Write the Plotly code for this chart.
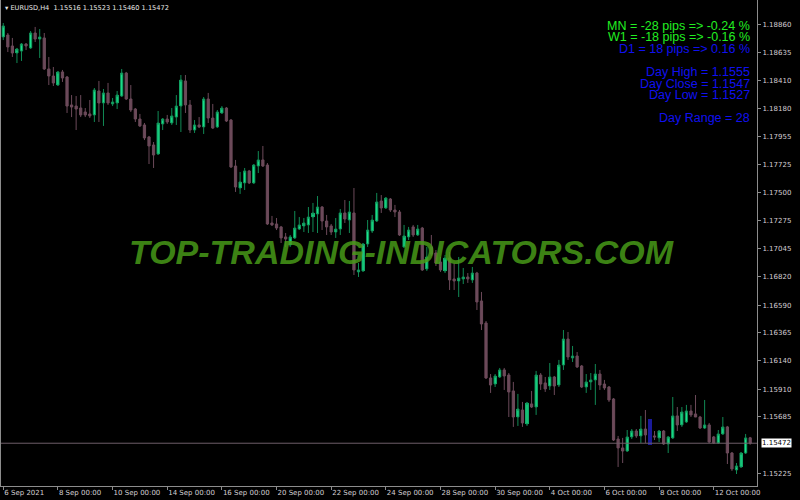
import plotly.graph_objects as go

# ---- data (EURUSD H4, 6 Sep 2021 00:00 .. 13 Oct 2021 08:00) ----
opens = [1.18759,1.18775,1.18686,1.18629,1.18645,1.18702,1.18670,1.18791,1.18742,1.18751,
         1.18500,1.18443,1.18370,1.18476,1.18435,1.18209,1.18200,1.18184,1.18152,1.18136,
         1.18128,1.18322,1.18225,1.18306,1.18217,1.18225,1.18281,1.18467,1.18257,1.18176,
         1.18095,1.18047,1.17950,1.17885,1.17812,1.18055,1.18095,1.18063,1.18111,1.18200,
         1.18403,1.18209,1.18006,1.18047,1.18031,1.18257,1.18103,1.18031,1.18144,1.18184,
         1.18087,1.17715,1.17537,1.17578,1.17675,1.17578,1.17715,1.17764,1.17723,1.17254,
         1.17246,1.17222,1.17141,1.17076,1.17133,1.17205,1.17230,1.17238,1.17302,1.17327,
         1.17383,1.17270,1.17230,1.17181,1.17205,1.17335,1.17278,1.17335,1.16858,1.16866,
         1.17084,1.17189,1.17270,1.17432,1.17375,1.17448,1.17359,1.17343,1.17060,1.17141,
         1.17222,1.17157,1.17213,1.16882,1.17060,1.17011,1.16938,1.16866,1.16971,1.16801,
         1.16785,1.16801,1.16817,1.16793,1.16849,1.16623,1.16445,1.16000,1.15951,1.16008,
         1.16065,1.16024,1.15895,1.15684,1.15741,1.15628,1.15790,1.15765,1.16024,1.15960,
         1.15935,1.16008,1.15943,1.16105,1.16315,1.16162,1.16178,1.16097,1.15927,1.15968,
         1.15984,1.16032,1.15951,1.15927,1.15830,1.15506,1.15434,1.15409,1.15523,1.15571,
         1.15531,1.15587,1.15660,1.15531,1.15515,1.15571,1.15466,1.15515,1.15693,1.15620,
         1.15644,1.15733,1.15709,1.15684,1.15595,1.15620,1.15523,1.15474,1.15547,1.15604,
         1.15393,1.15256,1.15280,1.15393,1.15516]
highs = [1.18872,1.18791,1.18751,1.18670,1.18710,1.18710,1.18807,1.18840,1.18823,1.18791,
         1.18597,1.18516,1.18484,1.18492,1.18443,1.18289,1.18281,1.18289,1.18184,1.18249,
         1.18346,1.18403,1.18338,1.18387,1.18265,1.18322,1.18500,1.18476,1.18370,1.18184,
         1.18136,1.18063,1.17958,1.17909,1.18160,1.18103,1.18128,1.18184,1.18289,1.18451,
         1.18451,1.18249,1.18087,1.18111,1.18273,1.18306,1.18217,1.18168,1.18200,1.18192,
         1.18095,1.17764,1.17667,1.17699,1.17683,1.17731,1.17836,1.17877,1.17739,1.17311,
         1.17294,1.17230,1.17173,1.17157,1.17351,1.17302,1.17294,1.17383,1.17416,1.17472,
         1.17391,1.17319,1.17246,1.17294,1.17367,1.17440,1.17432,1.17537,1.16930,1.17092,
         1.17278,1.17319,1.17497,1.17480,1.17464,1.17456,1.17400,1.17359,1.17238,1.17222,
         1.17238,1.17238,1.17222,1.17060,1.17157,1.17035,1.16979,1.16995,1.17019,1.16930,
         1.16979,1.16890,1.16849,1.16898,1.16858,1.16696,1.16461,1.16032,1.16032,1.16081,
         1.16081,1.16040,1.15968,1.15871,1.15806,1.15806,1.15895,1.16057,1.16040,1.16008,
         1.16121,1.16016,1.16146,1.16388,1.16372,1.16259,1.16210,1.16105,1.16032,1.16040,
         1.16113,1.16065,1.15984,1.15935,1.15838,1.15531,1.15515,1.15579,1.15587,1.15587,
         1.15693,1.15741,1.15668,1.15571,1.15579,1.15579,1.15531,1.15846,1.15765,1.15765,
         1.15782,1.15782,1.15862,1.15693,1.15822,1.15636,1.15531,1.15579,1.15684,1.15612,
         1.15401,1.15312,1.15401,1.15547,1.15523]
lows = [1.18734,1.18637,1.18597,1.18548,1.18565,1.18653,1.18662,1.18718,1.18589,1.18492,
        1.18370,1.18362,1.18362,1.18395,1.18144,1.18111,1.18006,1.18111,1.18111,1.18103,
        1.18071,1.18071,1.18039,1.18209,1.18200,1.18176,1.18273,1.18249,1.18152,1.18071,
        1.18031,1.17925,1.17731,1.17699,1.17804,1.18006,1.18055,1.18047,1.18047,1.17990,
        1.18144,1.17982,1.17982,1.18022,1.17974,1.18063,1.18014,1.18022,1.18136,1.18071,
        1.17699,1.17505,1.17489,1.17521,1.17569,1.17569,1.17658,1.17707,1.17238,1.17230,
        1.17197,1.17092,1.17060,1.17060,1.17124,1.17197,1.17181,1.17173,1.17181,1.17173,
        1.17197,1.17157,1.17157,1.17133,1.17157,1.17254,1.17173,1.16833,1.16817,1.16858,
        1.17060,1.17173,1.17262,1.17335,1.17367,1.17343,1.17302,1.17149,1.17052,1.17116,
        1.17141,1.17149,1.16866,1.16866,1.16987,1.16906,1.16858,1.16849,1.16712,1.16712,
        1.16655,1.16760,1.16769,1.16769,1.16550,1.16388,1.15992,1.15879,1.15927,1.16000,
        1.15903,1.15684,1.15604,1.15612,1.15604,1.15612,1.15757,1.15701,1.15903,1.15887,
        1.15903,1.15862,1.15927,1.16065,1.16146,1.16129,1.16081,1.15919,1.15879,1.15903,
        1.15782,1.15903,1.15903,1.15806,1.15490,1.15280,1.15312,1.15401,1.15506,1.15515,
        1.15474,1.15474,1.15458,1.15498,1.15482,1.15458,1.15393,1.15506,1.15571,1.15604,
        1.15636,1.15684,1.15684,1.15587,1.15587,1.15474,1.15466,1.15466,1.15539,1.15304,
        1.15248,1.15223,1.15272,1.15385,1.15460]
closes = [1.18848,1.18678,1.18629,1.18662,1.18702,1.18686,1.18791,1.18742,1.18759,1.18500,
          1.18443,1.18387,1.18476,1.18427,1.18200,1.18192,1.18176,1.18128,1.18128,1.18120,
          1.18330,1.18225,1.18306,1.18225,1.18233,1.18289,1.18467,1.18257,1.18168,1.18095,
          1.18039,1.17942,1.17877,1.17804,1.18063,1.18095,1.18071,1.18120,1.18200,1.18411,
          1.18209,1.18006,1.18047,1.18031,1.18257,1.18103,1.18022,1.18152,1.18184,1.18079,
          1.17707,1.17545,1.17586,1.17675,1.17578,1.17723,1.17764,1.17715,1.17246,1.17238,
          1.17213,1.17133,1.17124,1.17141,1.17213,1.17238,1.17254,1.17302,1.17335,1.17383,
          1.17270,1.17222,1.17181,1.17205,1.17335,1.17286,1.17343,1.16874,1.16874,1.17084,
          1.17197,1.17278,1.17424,1.17375,1.17456,1.17359,1.17343,1.17157,1.17149,1.17197,
          1.17157,1.17205,1.16874,1.16979,1.17003,1.16930,1.16874,1.16971,1.16793,1.16785,
          1.16809,1.16817,1.16801,1.16849,1.16615,1.16437,1.16000,1.15943,1.16016,1.16065,
          1.16016,1.15887,1.15684,1.15749,1.15636,1.15798,1.15765,1.16024,1.15951,1.15911,
          1.16008,1.15935,1.16105,1.16315,1.16170,1.16178,1.16089,1.15927,1.15968,1.15984,
          1.16032,1.15943,1.15919,1.15822,1.15498,1.15434,1.15409,1.15523,1.15571,1.15531,
          1.15587,1.15539,1.15458,1.15523,1.15571,1.15466,1.15523,1.15693,1.15620,1.15725,
          1.15733,1.15701,1.15684,1.15595,1.15620,1.15482,1.15474,1.15547,1.15604,1.15393,
          1.15264,1.15288,1.15393,1.15515,1.15472]
marked_bar = [142]  # candle drawn in blue by the indicator

x_tick_idx = [0, 12, 24, 36, 48, 60, 72, 84, 96, 108, 120, 132, 144, 156]
x_tick_text = ["6 Sep 2021", "8 Sep 00:00", "10 Sep 00:00", "14 Sep 00:00", "16 Sep 00:00",
               "20 Sep 00:00", "22 Sep 00:00", "24 Sep 00:00", "28 Sep 00:00", "30 Sep 00:00",
               "4 Oct 00:00", "6 Oct 00:00", "8 Oct 00:00", "12 Oct 00:00"]
y_ticks = [1.18860, 1.18635, 1.18410, 1.18180, 1.17955, 1.17725, 1.17500, 1.17275,
           1.17045, 1.16820, 1.16590, 1.16365, 1.16140, 1.15910, 1.15685, 1.15225]

info_green = ["MN = -28 pips => -0.24 %", "W1 = -18 pips => -0.16 %"]
info_blue = ["D1 = 18 pips => 0.16 %", "", "Day High = 1.1555", "Day Close = 1.1547",
             "Day Low = 1.1527", "", "Day Range = 28"]

# ---- styling ----
BULL = "#19e38c"
BULL_WICK = "#118a55"
BEAR = "#6c4a5a"
AXIS = "#8c8c8c"
TXT = "#d4cfd4"

n = len(opens)
idx = list(range(n))
normal = [i for i in idx if i not in marked_bar]

fig = go.Figure()
fig.add_trace(go.Candlestick(
    x=normal, open=[opens[i] for i in normal], high=[highs[i] for i in normal],
    low=[lows[i] for i in normal], close=[closes[i] for i in normal],
    increasing=dict(line=dict(color=BULL_WICK, width=1), fillcolor=BULL),
    decreasing=dict(line=dict(color=BEAR, width=1), fillcolor=BEAR),
    whiskerwidth=0, hoverinfo="skip", showlegend=False))
# bright bodies of bullish candles
g = [i for i in normal if closes[i] >= opens[i]]
fig.add_trace(go.Bar(
    x=g, y=[closes[i] - opens[i] for i in g], base=[opens[i] for i in g],
    width=0.68, marker=dict(color=BULL, line=dict(width=0)), hoverinfo="skip", showlegend=False))
# blue marked candle
fig.add_trace(go.Bar(
    x=marked_bar, y=[highs[i] - lows[i] for i in marked_bar], base=[lows[i] for i in marked_bar],
    width=0.68, marker=dict(color="#1a1a9a", line=dict(width=0)), hoverinfo="skip", showlegend=False))

last_close = closes[-1]
fig.add_shape(type="line", xref="paper", x0=0, x1=1, yref="y", y0=last_close, y1=last_close,
              line=dict(color="#6e5e68", width=1), layer="above")

ymin, ymax = 1.15126, 1.19058
fig.update_layout(
    width=800, height=500,
    margin=dict(l=1, r=43, t=0, b=14, autoexpand=False),
    paper_bgcolor="black", plot_bgcolor="black",
    barmode="overlay", bargap=0,
    showlegend=False,
    xaxis=dict(range=[-0.5, n + 0.5], rangeslider=dict(visible=False), showgrid=False,
               zeroline=False, tickmode="array", tickvals=x_tick_idx, ticktext=x_tick_text,
               ticks="outside", ticklen=3, tickcolor=AXIS, showline=True, linecolor=AXIS,
               linewidth=1, mirror=True, ticklabelposition="outside right", tickangle=0,
               automargin=False,
               tickfont=dict(family="DejaVu Sans", size=7, color=TXT)),
    yaxis=dict(range=[ymin, ymax], side="right", showgrid=False, zeroline=False,
               tickmode="array", tickvals=y_ticks, ticktext=[f"{v:.5f}" for v in y_ticks],
               ticks="outside", ticklen=3, tickcolor=AXIS, showline=True, linecolor=AXIS,
               linewidth=1, mirror=True, automargin=False,
               tickfont=dict(family="DejaVu Sans", size=7, color=TXT)),
)

# title at top-left
fig.add_annotation(xref="paper", yref="paper", x=0, y=1, xanchor="left", yanchor="top",
                   xshift=2, yshift=-2, showarrow=False,
                   text=f"▾ EURUSD,H4  {opens[-1]:.5f} {highs[-1]:.5f} {lows[-1]:.5f} {closes[-1]:.5f}",
                   font=dict(family="DejaVu Sans", size=6.6, color="#e6e6e6"))

# info panel (top right)
ph = 486.0
lines = [(t, "#22ee22") for t in info_green] + [(t, "#1010f0") for t in info_blue]
for k, (t, col) in enumerate(lines):
    if not t:
        continue
    ypx = 25.5 + k * 11.6
    fig.add_annotation(xref="paper", yref="paper", x=752 / 757, y=1 - ypx / ph,
                       xanchor="right", yanchor="middle", showarrow=False, text=t,
                       font=dict(family="Liberation Sans, Arial", size=12.5, color=col))

# current price label on axis
fig.add_annotation(xref="paper", yref="y", x=1, y=last_close, xanchor="left", yanchor="middle",
                   xshift=4, showarrow=False, text=f"{last_close:.5f}", bgcolor="white",
                   borderpad=0, font=dict(family="DejaVu Sans", size=7, color="black"))

# watermark
fig.add_annotation(xref="paper", yref="paper", x=401 / 757, y=1 - 252 / ph, showarrow=False,
                   text="<b><i>TOP-TRADING-INDICATORS.COM</i></b>",
                   font=dict(family="Liberation Sans, Arial", size=34, color="rgba(72,155,24,0.85)"))

fig.write_html("out.html", config={"displayModeBar": False},
               post_script="document.body.style.margin='0';document.body.style.background='black';")
